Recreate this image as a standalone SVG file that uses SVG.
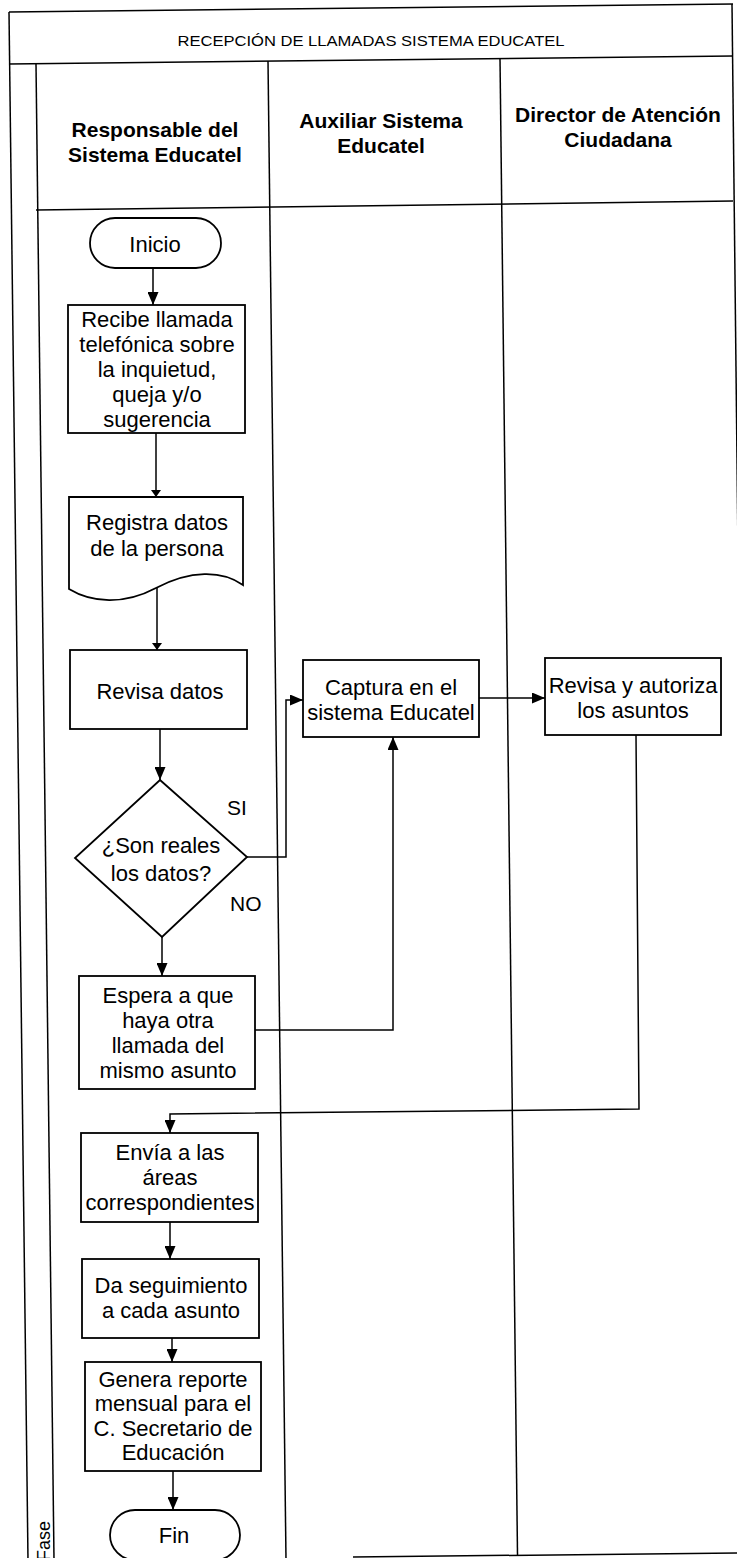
<svg xmlns="http://www.w3.org/2000/svg" width="737" height="1558" viewBox="0 0 737 1558">
<style>
.ln{stroke:#000;stroke-width:1.5;fill:none}
.box{fill:#fff;stroke:#000;stroke-width:1.8}
.t{font-family:"Liberation Sans",Arial,sans-serif;font-size:22px;fill:#000;text-anchor:middle}
.h{font-family:"Liberation Sans",Arial,sans-serif;font-size:21px;font-weight:bold;fill:#000;text-anchor:middle}
.c{stroke:#000;stroke-width:1.5;fill:none}
.big{marker-end:url(#ab)}
.sm{marker-end:url(#as)}
</style>
<defs>
<marker id="ab" markerUnits="userSpaceOnUse" viewBox="0 0 13 11" refX="13" refY="5.5" markerWidth="13" markerHeight="11" orient="auto"><path d="M0,0L13,5.5L0,11z" fill="#000"/></marker>
<marker id="as" markerUnits="userSpaceOnUse" viewBox="0 0 7 10" refX="7" refY="5" markerWidth="7" markerHeight="10" orient="auto"><path d="M0,0L7,5L0,10z" fill="#000"/></marker>
</defs>
<rect width="737" height="1558" fill="#fff"/>
<g id="frame" class="ln">
<line x1="9" y1="12" x2="733" y2="4"/>
<line x1="9" y1="64" x2="733" y2="56"/>
<line x1="9" y1="12" x2="28" y2="1560"/>
<line x1="732" y1="4" x2="749" y2="1553"/>
<line x1="36" y1="64" x2="54" y2="1560"/>
<line x1="268" y1="61" x2="286" y2="1560"/>
<line x1="500" y1="58.5" x2="517.5" y2="1555"/>
<line x1="36" y1="210" x2="733" y2="201"/>
<line x1="353" y1="1557" x2="737" y2="1553"/>
</g>
<g id="title">
<text x="371" y="46" style="font-family:'Liberation Sans',Arial,sans-serif;font-size:15px;text-anchor:middle" textLength="387" lengthAdjust="spacingAndGlyphs">RECEPCIÓN DE LLAMADAS SISTEMA EDUCATEL</text>
</g>
<g id="lane-headers">
<text class="h" x="155" y="137">Responsable del</text>
<text class="h" x="155" y="162">Sistema Educatel</text>
<text class="h" x="381" y="128">Auxiliar Sistema</text>
<text class="h" x="381" y="153">Educatel</text>
<text class="h" x="618" y="122">Director de Atención</text>
<text class="h" x="618" y="147">Ciudadana</text>
</g>
<g id="fase">
<text transform="translate(50,1561) rotate(-90)" style="font-family:'Liberation Sans',Arial,sans-serif;font-size:18px">Fase</text>
</g>
<g id="connectors">
<path class="c big" d="M153,268V305"/>
<path class="c sm" d="M156,433V497"/>
<path class="c sm" d="M157,588V650"/>
<path class="c big" d="M160,729V780"/>
<path class="c big" d="M247,857H286V700H303"/>
<path class="c big" d="M162,937V976"/>
<path class="c big" d="M255,1030H393V737"/>
<path class="c big" d="M479,698H545"/>
<path class="c big" d="M636,735L639,1109L170,1114V1133"/>
<path class="c big" d="M170,1222V1259"/>
<path class="c big" d="M172,1338V1362"/>
<path class="c big" d="M173,1471V1510"/>
</g>
<g id="inicio">
<rect class="box" x="90" y="218" width="131" height="50" rx="25" ry="25"/>
<text class="t" x="155" y="252">Inicio</text>
</g>
<g id="recibe">
<rect class="box" x="68" y="305" width="177" height="128"/>
<text class="t" x="157" y="327">Recibe llamada</text>
<text class="t" x="157" y="352">telefónica sobre</text>
<text class="t" x="157" y="377">la inquietud,</text>
<text class="t" x="157" y="402">queja y/o</text>
<text class="t" x="157" y="427">sugerencia</text>
</g>
<g id="registra">
<path class="box" d="M69,497H243V585C222,570 190,570 156,588C124,605 92,603 69,589Z"/>
<text class="t" x="157" y="530">Registra datos</text>
<text class="t" x="157" y="556">de la persona</text>
</g>
<g id="revisa-datos">
<rect class="box" x="70" y="650" width="177" height="79"/>
<text class="t" x="160" y="699">Revisa datos</text>
</g>
<g id="decision">
<polygon class="box" points="160,780 247,857 162,937 75,858"/>
<text class="t" x="161" y="853">¿Son reales</text>
<text class="t" x="161" y="881">los datos?</text>
<text style="font-family:'Liberation Sans',Arial,sans-serif;font-size:21px" x="227" y="815">SI</text>
<text style="font-family:'Liberation Sans',Arial,sans-serif;font-size:21px" x="230" y="911">NO</text>
</g>
<g id="espera">
<rect class="box" x="79" y="976" width="176" height="113"/>
<text class="t" x="168" y="1003">Espera a que</text>
<text class="t" x="168" y="1028">haya otra</text>
<text class="t" x="168" y="1053">llamada del</text>
<text class="t" x="168" y="1078">mismo asunto</text>
</g>
<g id="captura">
<rect class="box" x="303" y="660" width="176" height="77"/>
<text class="t" x="391" y="695">Captura en el</text>
<text class="t" x="391" y="720">sistema Educatel</text>
</g>
<g id="revisa-autoriza">
<rect class="box" x="545" y="658" width="176" height="77"/>
<text class="t" x="633" y="693">Revisa y autoriza</text>
<text class="t" x="633" y="718">los asuntos</text>
</g>
<g id="envia">
<rect class="box" x="81" y="1133" width="177" height="89"/>
<text class="t" x="170" y="1160">Envía a las</text>
<text class="t" x="170" y="1185">áreas</text>
<text class="t" x="170" y="1210">correspondientes</text>
</g>
<g id="seguimiento">
<rect class="box" x="82" y="1259" width="177" height="79"/>
<text class="t" x="171" y="1293">Da seguimiento</text>
<text class="t" x="171" y="1318">a cada asunto</text>
</g>
<g id="genera">
<rect class="box" x="85" y="1362" width="176" height="109"/>
<text class="t" x="173" y="1387">Genera reporte</text>
<text class="t" x="173" y="1411">mensual para el</text>
<text class="t" x="173" y="1436">C. Secretario de</text>
<text class="t" x="173" y="1460">Educación</text>
</g>
<g id="fin">
<rect class="box" x="110" y="1510" width="130" height="50" rx="25" ry="25"/>
<text class="t" x="174" y="1543">Fin</text>
</g>
</svg>
